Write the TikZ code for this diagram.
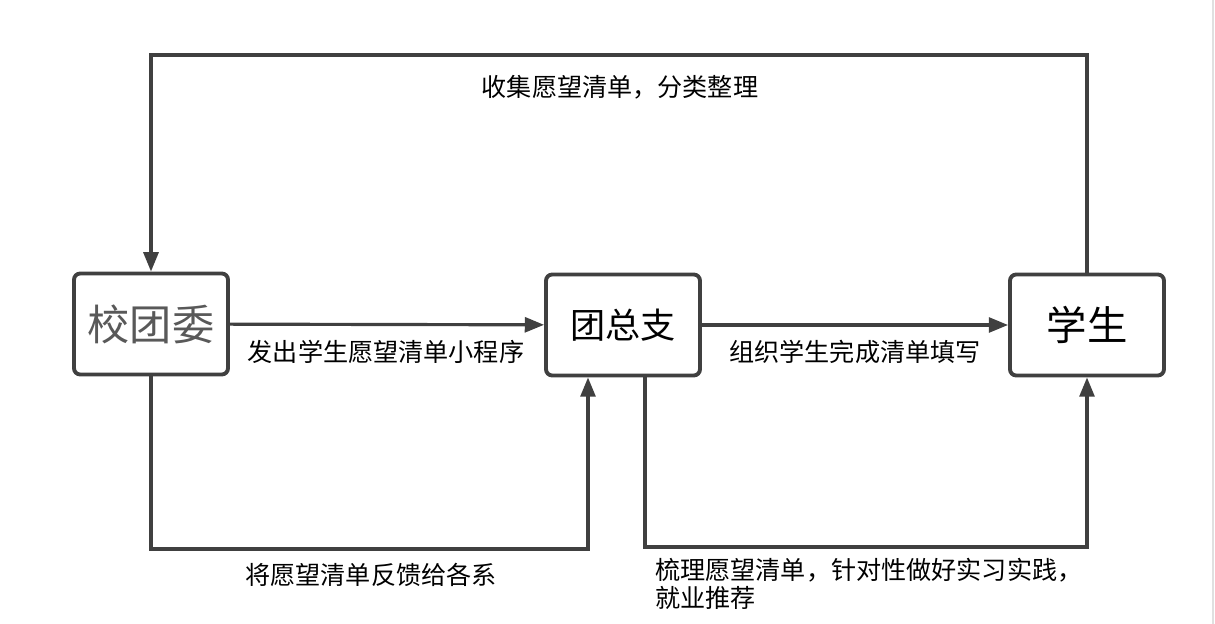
\documentclass[tikz,border=0pt]{standalone}
\usepackage{fontspec}
\setmainfont{Noto Sans CJK SC}
\colorlet{mydark}{black!75}
\colorlet{mygray}{black!65}
\usetikzlibrary{positioning, arrows.meta}

\begin{document}
\begin{tikzpicture}[x=0.02cm, y=-0.02cm,
    unit/.style = {rectangle, draw=mydark, line width=2.2pt, rounded corners=3.5pt,
      minimum width=3.08cm, minimum height=2.02cm, inner sep=0pt, fill=white},
    conn/.style = {draw=mydark, line width=1.8pt,
      -{Triangle[length=11pt, width=8.5pt]}},
    lbl/.style  = {font=\fontsize{14.3pt}{16pt}\selectfont, inner sep=0pt},
  ]
\useasboundingbox (0,0) rectangle (1215,624);
\draw[black!12, line width=0.8pt] (1213,0) -- (1213,624);

% the three units
\node[unit, text=mygray, font=\fontsize{24pt}{28pt}\selectfont] (xtw) at (151,324) {校团委};
\node[unit, font=\fontsize{20pt}{24pt}\selectfont] (tzz) at (623,325) {团总支};
\node[unit, font=\fontsize{23pt}{27pt}\selectfont] (xs) at (1087,325) {学生};

% turning points
\coordinate (top) at (620,55);
\coordinate (fbl) at (370,549);
\coordinate (fbr) at (860,547);

% connectors
\draw[conn] (xtw) -- (tzz);
\draw[conn] (tzz) -- (xs);
\draw[conn] (xs.north) |- (top) -| (xtw.north);
\draw[conn] (xtw.south) |- (fbl) -| ([xshift=-0.7cm]tzz.south);
\draw[conn] ([xshift=0.44cm]tzz.south) |- (fbr) -| (xs.south);

% labels
\node[lbl] (l1) at (620,87) {收集愿望清单，分类整理};
\node[lbl] (l2) at (386,352) {发出学生愿望清单小程序};
\node[lbl] (l3) at (855,352) {组织学生完成清单填写};
\node[lbl] (l4) at (371,575) {将愿望清单反馈给各系};
\node[lbl, anchor=north west, align=left] (l5) at (655,558)
    {梳理愿望清单，针对性做好实习实践，\\就业推荐};
\end{tikzpicture}
\end{document}
